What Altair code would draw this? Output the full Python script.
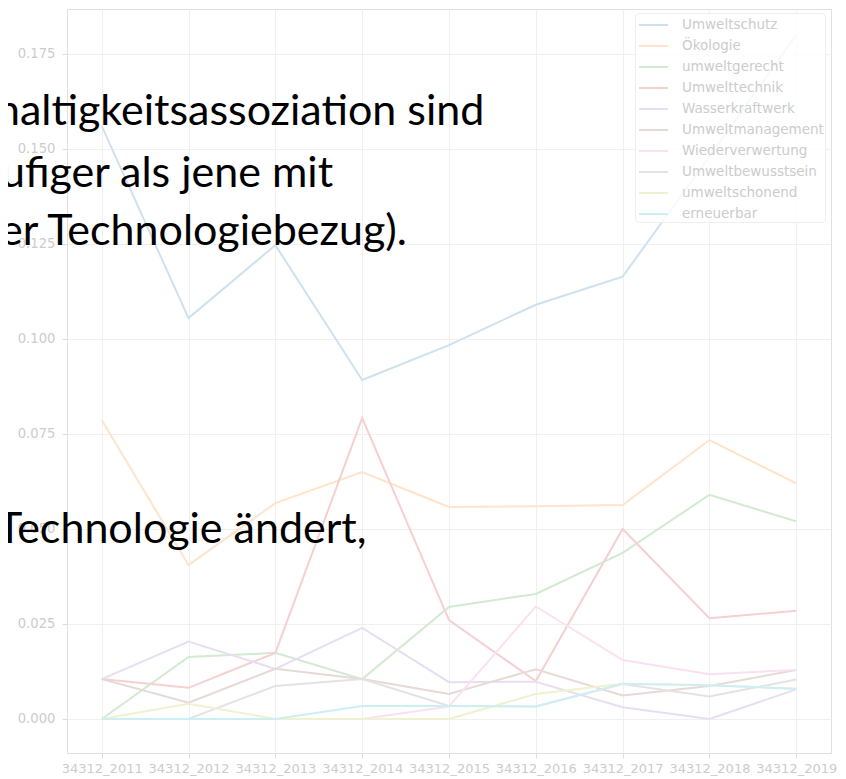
import altair as alt
import pandas as pd

years = ["34312_2011", "34312_2012", "34312_2013", "34312_2014", "34312_2015",
         "34312_2016", "34312_2017", "34312_2018", "34312_2019"]

series_names = ["Umweltschutz", "Ökologie", "umweltgerecht", "Umwelttechnik",
                "Wasserkraftwerk", "Umweltmanagement", "Wiederverwertung",
                "Umweltbewusstsein", "umweltschonend", "erneuerbar"]

umweltschutz = [0.156, 0.1055, 0.1247, 0.0892, 0.0984, 0.109, 0.1164, 0.148, 0.180]
oekologie = [0.0787, 0.0405, 0.0568, 0.065, 0.0558, 0.056, 0.0563, 0.0734, 0.062]
umweltgerecht = [0.0, 0.0163, 0.0174, 0.0105, 0.0295, 0.0329, 0.0437, 0.059, 0.052]
umwelttechnik = [0.0105, 0.0082, 0.0174, 0.0792, 0.026, 0.0100, 0.050, 0.0265, 0.0285]
wasserkraftwerk = [0.0105, 0.0204, 0.0132, 0.024, 0.0097, 0.0098, 0.0031, 0.0, 0.0078]
umweltmanagement = [0.0105, 0.0043, 0.0132, 0.0105, 0.0066, 0.0131, 0.0062, 0.0087, 0.0129]
wiederverwertung = [0.0, 0.0, 0.0, 0.0, 0.0033, 0.0296, 0.0155, 0.0118, 0.0129]
umweltbewusstsein = [0.0, 0.0, 0.0087, 0.0105, 0.0034, 0.0033, 0.0092, 0.0059, 0.0104]
umweltschonend = [0.0, 0.004, 0.0, 0.0, 0.0, 0.0066, 0.0093, 0.0089, 0.008]
erneuerbar = [0.0, 0.0, 0.0, 0.0034, 0.0034, 0.0033, 0.0093, 0.0089, 0.0079]

series_values = [umweltschutz, oekologie, umweltgerecht, umwelttechnik, wasserkraftwerk,
                 umweltmanagement, wiederverwertung, umweltbewusstsein, umweltschonend,
                 erneuerbar]

# tab10 colours, faded as in the reference
colors = ["#cee1ef", "#ffe3ca", "#d1ead1", "#f6d0d0", "#e8def1",
          "#e6dad7", "#f9e1f2", "#e3e3e3", "#f0f1ce", "#cceff4"]

y_ticks = [0.0, 0.025, 0.05, 0.075, 0.1, 0.125, 0.15, 0.175]

overlay_lines = ["haltigkeitsassoziation sind", "ufiger als jene mit",
                 "er Technologiebezug).", "Technologie ändert,"]

rows = []
for name, vals in zip(series_names, series_values):
    for yr, v in zip(years, vals):
        rows.append({"Jahr": yr, "Begriff": name, "Anteil": v})
df = pd.DataFrame(rows)

label_color = "#cccccc"
grid_color = "#f0f0f0"

lines = alt.Chart(df).mark_line(strokeWidth=2).encode(
    x=alt.X("Jahr:N", sort=years,
            scale=alt.Scale(type="point", padding=0.4),
            axis=alt.Axis(title=None, labelAngle=0, labelFont="DejaVu Sans",
                          labelFontSize=13, labelColor=label_color,
                          tickColor="#dddddd", tickSize=5, labelPadding=4,
                          grid=True, gridColor=grid_color, domain=False,
                          labelOverlap=False)),
    y=alt.Y("Anteil:Q",
            scale=alt.Scale(domain=[-0.00895, 0.18684], nice=False, zero=False),
            axis=alt.Axis(title=None, values=y_ticks, format=".3f",
                          labelFont="DejaVu Sans", labelFontSize=13.2,
                          labelColor=label_color, tickColor="#dddddd", tickSize=5,
                          labelPadding=7, grid=True, gridColor=grid_color,
                          domain=False)),
    color=alt.Color("Begriff:N", sort=series_names,
                    scale=alt.Scale(domain=series_names, range=colors),
                    legend=alt.Legend(title=None, orient="none", legendX=568,
                                      legendY=4, direction="vertical",
                                      symbolType="M-0.8,0H2.1", symbolSize=400,
                                      symbolStrokeWidth=2, labelFont="DejaVu Sans",
                                      labelFontSize=13.5, labelColor=label_color,
                                      labelOffset=24, padding=1, rowPadding=3,
                                      strokeColor="#eeeeee",
                                      fillColor="rgba(255,255,255,0.8)",
                                      cornerRadius=4, labelLimit=300)),
)

text_pos = [(-71, 116), (-66, 178), (-67, 236), (-70, 534)]
texts = []
for t, (px, py) in zip(overlay_lines, text_pos):
    texts.append(
        alt.Chart(pd.DataFrame({"t": [t]})).mark_text(
            font="Lato", fontSize=43, color="black", align="left",
            baseline="alphabetic"
        ).encode(text="t:N", x=alt.value(px), y=alt.value(py))
    )

chart = alt.layer(lines, *texts).properties(
    width=764, height=744,
    padding={"left": 59, "top": 1, "right": 7, "bottom": 25},
    autosize=alt.AutoSizeParams(type="none"),
).configure_view(stroke="#e0e0e0", strokeWidth=1)

chart.save("out.html", embed_options={"renderer": "svg", "actions": False})
